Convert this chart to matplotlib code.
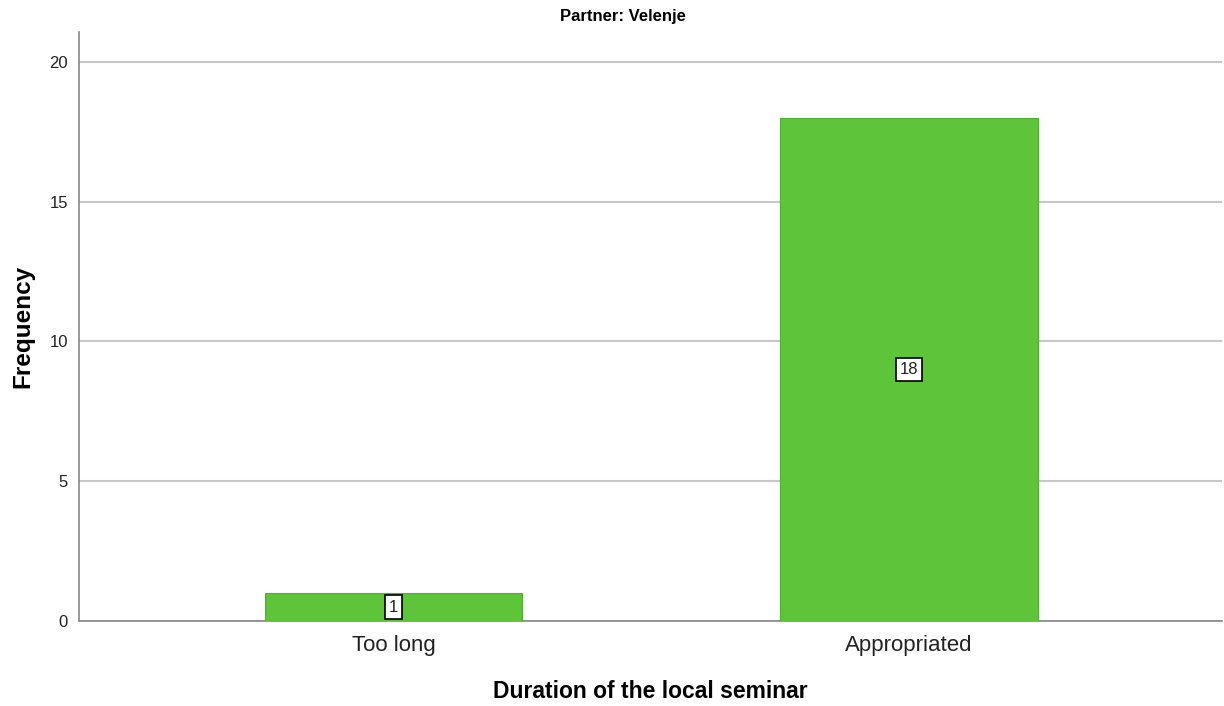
import matplotlib
matplotlib.use("Agg")
import matplotlib.pyplot as plt

categories = ["Too long", "Appropriated"]
counts = [1, 18]
title = "Partner: Velenje"
xlabel = "Duration of the local seminar"
ylabel = "Frequency"
yticks = [0, 5, 10, 15, 20]

plt.rcParams['font.family'] = ['Liberation Sans', 'DejaVu Sans']

fig = plt.figure(figsize=(12.24, 7.06), dpi=100)
ax = fig.add_axes([79/1224, 1-621/706, (1222-79)/1224, (621-32)/706])

x = list(range(len(categories)))
bars = ax.bar(x, counts, width=0.5, color='#5ec43a', edgecolor='#52b032', linewidth=0.8, zorder=3)

for xi, c in zip(x, counts):
    ax.text(xi, c/2, str(c), ha='center', va='center', fontsize=12, zorder=4, color='#222222',
            bbox=dict(boxstyle='square,pad=0.25', facecolor='white', edgecolor='black', linewidth=1.2))

ax.set_xlim(-0.61, 1.607)
ax.set_ylim(0, 21.07)
ax.set_yticks(yticks)
ax.set_xticks(x)
ax.set_xticklabels(categories, fontsize=16, color='#222222')
ax.tick_params(axis='y', labelsize=12, length=0, pad=8, labelcolor='#222222')
ax.tick_params(axis='x', length=0, pad=10)
ax.yaxis.grid(True, color='#c8c8c8', linewidth=1.5, zorder=0)
ax.set_axisbelow(True)

for s in ['top', 'right']:
    ax.spines[s].set_visible(False)
for s in ['left', 'bottom']:
    ax.spines[s].set_color('#888888')
    ax.spines[s].set_linewidth(1.2)

ax.set_xlabel(xlabel, fontsize=16.5, fontweight='bold', labelpad=17)
ax.set_ylabel(ylabel, fontsize=17.5, fontweight='bold', labelpad=11)
fig.text(623/1224, 1-16/706, title, ha='center', va='center', fontsize=12, fontweight='bold')

fig.savefig("out.png", dpi=100)
